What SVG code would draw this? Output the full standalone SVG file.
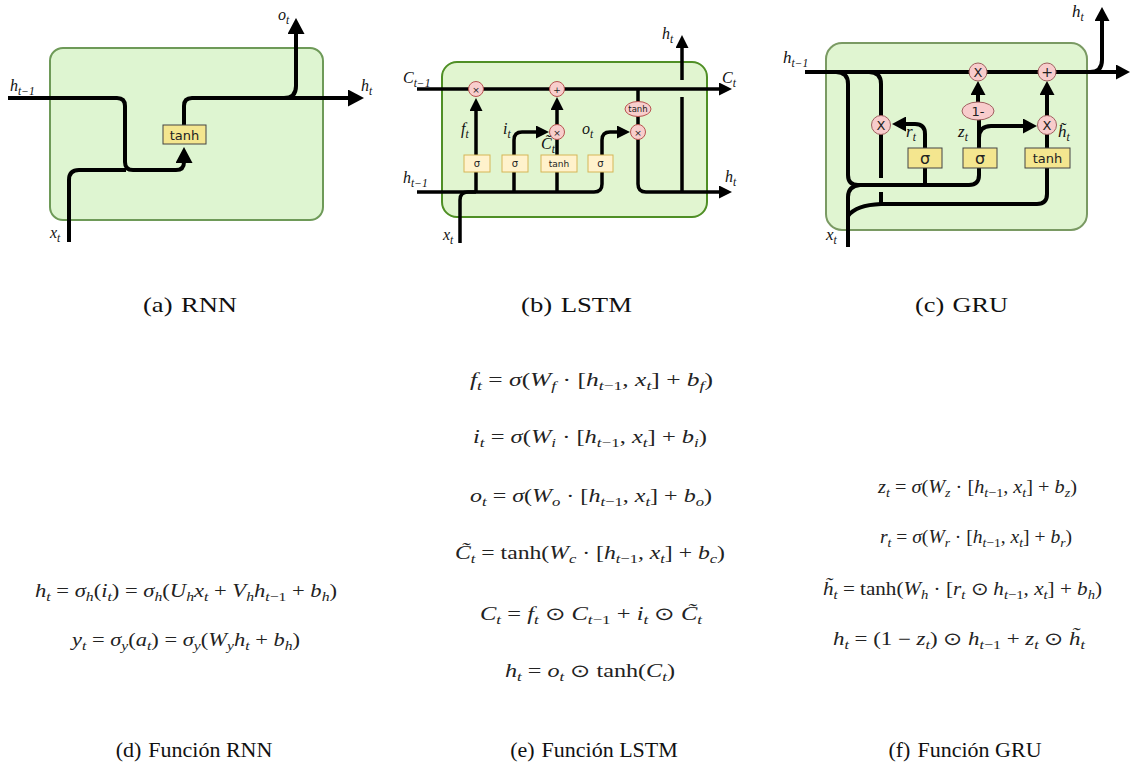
<svg xmlns="http://www.w3.org/2000/svg" width="1130" height="765" viewBox="0 0 1130 765">
<style>
.cap{font-family:"Liberation Serif",serif;font-size:22px;fill:#111}
.eq{font-family:"Liberation Serif",serif;font-size:18px;fill:#222}
.v{font-style:italic}
.b{font-size:12.5px;font-style:italic}
.n{font-size:12.5px;font-style:normal}
.lbl{font-family:"Liberation Serif",serif;font-style:italic;font-size:16px;fill:#111}
.ls{font-size:11.5px}
.wire{fill:none;stroke:#000;stroke-width:4;stroke-linejoin:round}
.wl{fill:none;stroke:#000;stroke-width:3.5;stroke-linejoin:round}
.cellR{fill:#def5d1;stroke:#6e9a58;stroke-width:2}
.cellL{fill:#e1f5d0;stroke:#4f8f25;stroke-width:2}
.cellG{fill:#e0f5d1;stroke:#7a9a63;stroke-width:2}
.ybox{fill:#f4e68f;stroke:#444;stroke-width:1}
.lbox{fill:#fff2cc;stroke:#d6b656;stroke-width:1}
.pk{fill:#f8cecc;stroke:#b85450;stroke-width:1}
.pg{fill:#f8cccc;stroke:#a06060;stroke-width:1}
.st{font-family:"DejaVu Sans",sans-serif;fill:#222;text-anchor:middle}
</style>
<defs>
<marker id="mR" markerUnits="userSpaceOnUse" markerWidth="16" markerHeight="17" refX="3" refY="8.5" orient="auto"><path d="M0,0 L16,8.5 L0,17 z" fill="#000"/></marker>
<marker id="mL" markerUnits="userSpaceOnUse" markerWidth="13" markerHeight="13" refX="2" refY="6.5" orient="auto"><path d="M0,0 L13,6.5 L0,13 z" fill="#000"/></marker>
<marker id="mG" markerUnits="userSpaceOnUse" markerWidth="14" markerHeight="15" refX="2" refY="7.5" orient="auto"><path d="M0,0 L14,7.5 L0,15 z" fill="#000"/></marker>
</defs>
<rect width="1130" height="765" fill="#fff"/>

<!-- ===== RNN ===== -->
<g id="rnn-cell"><rect class="cellR" x="50" y="48" width="273" height="172" rx="13"/></g>
<g id="rnn-connectors">
<path class="wire" d="M8,98 H117 Q125,98 125,106 V162 Q125,170 133,170 H176 Q184,170 184,162 V160" marker-end="url(#mR)"/>
<path class="wire" d="M69,242 V180 Q69,170 79,170 H126"/>
<path class="wire" d="M184,125 V106 Q184,98 192,98 H351" marker-end="url(#mR)"/>
<path class="wire" d="M284,98 Q296,98 296,86 V31" marker-end="url(#mR)"/>
</g>
<g id="rnn-tanh"><rect class="ybox" x="163" y="125" width="43" height="19"/><text class="st" x="184.5" y="139.5" font-size="13">tanh</text></g>
<g id="rnn-labels" class="lbl">
<text x="10" y="91">h<tspan class="ls" dy="4">t−1</tspan></text>
<text x="278" y="20">o<tspan class="ls" dy="4">t</tspan></text>
<text x="361" y="91">h<tspan class="ls" dy="4">t</tspan></text>
<text x="50" y="238">x<tspan class="ls" dy="4">t</tspan></text>
</g>

<!-- ===== LSTM ===== -->
<g id="lstm-cell"><rect class="cellL" x="442" y="62" width="265" height="155" rx="15"/></g>
<g id="lstm-connectors">
<path class="wl" d="M417,89 H721" marker-end="url(#mL)"/>
<path class="wl" d="M476,192 V109" marker-end="url(#mL)"/>
<path class="wl" d="M514,192 V140 Q514,132 522,132 H538" marker-end="url(#mL)"/>
<path class="wl" d="M557,192 V139"/>
<path class="wl" d="M557,125 V108" marker-end="url(#mL)"/>
<path class="wl" d="M417,192 H594 Q602,192 602,184 V140 Q602,132 610,132 H619" marker-end="url(#mL)"/>
<path class="wl" d="M638,89 V184 Q638,192 646,192 H721" marker-end="url(#mL)"/>
<path class="wl" d="M682,192 V97"/>
<path class="wl" d="M682,80 V46" marker-end="url(#mL)"/>
<path class="wl" d="M460,243 V200 Q460,192 468,192 H476"/>
</g>
<g id="lstm-forget-mul"><circle class="pk" cx="476" cy="89" r="7.5"/><text class="st" x="476" y="92.5" font-size="9">×</text></g>
<g id="lstm-add"><circle class="pk" cx="557" cy="89" r="7.5"/><text class="st" x="557" y="92.5" font-size="9">+</text></g>
<g id="lstm-input-mul"><circle class="pk" cx="557" cy="132" r="7.5"/><text class="st" x="557" y="135.5" font-size="9">×</text></g>
<g id="lstm-output-mul"><circle class="pk" cx="638" cy="132" r="7.5"/><text class="st" x="638" y="135.5" font-size="9">×</text></g>
<g id="lstm-tanh-out"><ellipse class="pk" cx="638" cy="109" rx="13" ry="7.5"/><text class="st" x="638" y="112" font-size="8.5">tanh</text></g>
<g id="lstm-sigma-f"><rect class="lbox" x="464" y="155" width="26" height="17"/><text class="st" x="477" y="167" font-size="10">σ</text></g>
<g id="lstm-sigma-i"><rect class="lbox" x="502" y="155" width="26" height="17"/><text class="st" x="515" y="167" font-size="10">σ</text></g>
<g id="lstm-tanh-c"><rect class="lbox" x="541" y="155" width="36" height="17"/><text class="st" x="559" y="167" font-size="9">tanh</text></g>
<g id="lstm-sigma-o"><rect class="lbox" x="588" y="155" width="25" height="17"/><text class="st" x="600.5" y="167" font-size="10">σ</text></g>
<g id="lstm-labels" class="lbl">
<text x="403" y="83">C<tspan class="ls" dy="4">t−1</tspan></text>
<text x="722" y="83">C<tspan class="ls" dy="4">t</tspan></text>
<text x="403" y="183">h<tspan class="ls" dy="4">t−1</tspan></text>
<text x="725" y="182">h<tspan class="ls" dy="4">t</tspan></text>
<text x="662" y="39">h<tspan class="ls" dy="4">t</tspan></text>
<text x="461" y="134">f<tspan class="ls" dy="4">t</tspan></text>
<text x="503" y="134">i<tspan class="ls" dy="4">t</tspan></text>
<text x="541" y="149">C&#x303;<tspan class="ls" dy="4">t</tspan></text>
<text x="582" y="134">o<tspan class="ls" dy="4">t</tspan></text>
<text x="443" y="240">x<tspan class="ls" dy="4">t</tspan></text>
</g>

<!-- ===== GRU ===== -->
<g id="gru-cell"><rect class="cellG" x="826" y="43" width="261" height="187" rx="16"/></g>
<g id="gru-connectors">
<path class="wire" d="M805,72 H1118" marker-end="url(#mG)"/>
<path class="wire" d="M1090,72 Q1102,72 1102,60 V19" marker-end="url(#mG)"/>
<path class="wire" d="M836,72 Q848,72 848,84 V175 Q848,185 858,185 H969 Q979,185 979,175 V168"/>
<path class="wire" d="M925,168 V185"/>
<path class="wire" d="M925,148 V134 Q925,124 915,124 H904" marker-end="url(#mG)"/>
<path class="wire" d="M869,72 Q881,72 881,84 V116"/>
<path class="wire" d="M881,134 V178"/>
<path class="wire" d="M881,192 V204"/>
<path class="wire" d="M848,247 V197 Q848,186 860,185"/>
<path class="wire" d="M848,216 Q856,205 881,204 H1037 Q1047,204 1047,194 V168"/>
<path class="wire" d="M979,148 V119"/>
<path class="wire" d="M978,102 V93" marker-end="url(#mG)"/>
<path class="wire" d="M979,138 Q979,126 991,126 H1025" marker-end="url(#mG)"/>
<path class="wire" d="M1047,148 V134"/>
<path class="wire" d="M1047,116 V93" marker-end="url(#mG)"/>
</g>
<g id="gru-mul-top"><circle class="pg" cx="978" cy="72" r="9"/><text class="st" x="978" y="77" font-size="13">X</text></g>
<g id="gru-add"><circle class="pg" cx="1047" cy="72" r="9"/><text class="st" x="1047" y="77" font-size="14">+</text></g>
<g id="gru-mul-r"><circle class="pg" cx="881" cy="125" r="9.5"/><text class="st" x="881" y="130" font-size="13">X</text></g>
<g id="gru-mul-z"><circle class="pg" cx="1047" cy="125" r="9.5"/><text class="st" x="1047" y="130" font-size="13">X</text></g>
<g id="gru-one-minus"><ellipse class="pg" cx="978" cy="111" rx="16" ry="9"/><text class="st" x="978" y="116" font-size="13">1-</text></g>
<g id="gru-sigma-r"><rect class="ybox" x="908" y="148" width="34" height="20"/><text class="st" x="925" y="164" font-size="16">σ</text></g>
<g id="gru-sigma-z"><rect class="ybox" x="963" y="148" width="34" height="20"/><text class="st" x="980" y="164" font-size="16">σ</text></g>
<g id="gru-tanh"><rect class="ybox" x="1025" y="148" width="45" height="20"/><text class="st" x="1047.5" y="163" font-size="13">tanh</text></g>
<g id="gru-labels" class="lbl">
<text x="783" y="63" font-size="17">h<tspan class="ls" dy="4">t−1</tspan></text>
<text x="1072" y="17" font-size="17">h<tspan class="ls" dy="4">t</tspan></text>
<text x="906" y="137" font-size="17">r<tspan class="ls" dy="4">t</tspan></text>
<text x="958" y="137" font-size="17">z<tspan class="ls" dy="4">t</tspan></text>
<text x="1058" y="137" font-size="17">h&#x303;<tspan class="ls" dy="4">t</tspan></text>
<text x="826" y="240" font-size="17">x<tspan class="ls" dy="4">t</tspan></text>
</g>

<!-- ===== Captions ===== -->
<g id="captions" class="cap">
<text x="143" y="312" textLength="94" lengthAdjust="spacingAndGlyphs">(a)<tspan dx="7">RNN</tspan></text>
<text x="521" y="312" textLength="111" lengthAdjust="spacingAndGlyphs">(b)<tspan dx="7">LSTM</tspan></text>
<text x="915" y="312" textLength="93" lengthAdjust="spacingAndGlyphs">(c)<tspan dx="7">GRU</tspan></text>
<text x="194" y="757" text-anchor="middle">(d)<tspan dx="7">Función RNN</tspan></text>
<text x="594" y="757" text-anchor="middle">(e)<tspan dx="7">Función LSTM</tspan></text>
<text x="965" y="757" text-anchor="middle">(f)<tspan dx="7">Función GRU</tspan></text>
</g>

<!-- ===== Equations ===== -->
<g id="eq-rnn" class="eq">
<text x="35" y="597" textLength="302" lengthAdjust="spacingAndGlyphs"><tspan class="v">h</tspan><tspan class="b" dy="4">t</tspan><tspan dy="-4"> = </tspan><tspan class="v">σ</tspan><tspan class="b" dy="4">h</tspan><tspan dy="-4">(</tspan><tspan class="v">i</tspan><tspan class="b" dy="4">t</tspan><tspan dy="-4">) = </tspan><tspan class="v">σ</tspan><tspan class="b" dy="4">h</tspan><tspan dy="-4">(</tspan><tspan class="v">U</tspan><tspan class="b" dy="4">h</tspan><tspan class="v" dy="-4">x</tspan><tspan class="b" dy="4">t</tspan><tspan dy="-4"> + </tspan><tspan class="v">V</tspan><tspan class="b" dy="4">h</tspan><tspan class="v" dy="-4">h</tspan><tspan class="b" dy="4">t</tspan><tspan class="n">−1</tspan><tspan dy="-4"> + </tspan><tspan class="v">b</tspan><tspan class="b" dy="4">h</tspan><tspan dy="-4">)</tspan></text>
<text x="72" y="646" textLength="228" lengthAdjust="spacingAndGlyphs"><tspan class="v">y</tspan><tspan class="b" dy="4">t</tspan><tspan dy="-4"> = </tspan><tspan class="v">σ</tspan><tspan class="b" dy="4">y</tspan><tspan dy="-4">(</tspan><tspan class="v">a</tspan><tspan class="b" dy="4">t</tspan><tspan dy="-4">) = </tspan><tspan class="v">σ</tspan><tspan class="b" dy="4">y</tspan><tspan dy="-4">(</tspan><tspan class="v">W</tspan><tspan class="b" dy="4">y</tspan><tspan class="v" dy="-4">h</tspan><tspan class="b" dy="4">t</tspan><tspan dy="-4"> + </tspan><tspan class="v">b</tspan><tspan class="b" dy="4">h</tspan><tspan dy="-4">)</tspan></text>
</g>
<g id="eq-lstm" class="eq">
<text x="470" y="386" textLength="243" lengthAdjust="spacingAndGlyphs"><tspan class="v">f</tspan><tspan class="b" dy="4">t</tspan><tspan dy="-4"> = </tspan><tspan class="v">σ</tspan><tspan>(</tspan><tspan class="v">W</tspan><tspan class="b" dy="4">f</tspan><tspan dy="-4"> · [</tspan><tspan class="v">h</tspan><tspan class="b" dy="4">t</tspan><tspan class="n">−1</tspan><tspan dy="-4">, </tspan><tspan class="v">x</tspan><tspan class="b" dy="4">t</tspan><tspan dy="-4">] + </tspan><tspan class="v">b</tspan><tspan class="b" dy="4">f</tspan><tspan dy="-4">)</tspan></text>
<text x="473" y="443" textLength="234" lengthAdjust="spacingAndGlyphs"><tspan class="v">i</tspan><tspan class="b" dy="4">t</tspan><tspan dy="-4"> = </tspan><tspan class="v">σ</tspan><tspan>(</tspan><tspan class="v">W</tspan><tspan class="b" dy="4">i</tspan><tspan dy="-4"> · [</tspan><tspan class="v">h</tspan><tspan class="b" dy="4">t</tspan><tspan class="n">−1</tspan><tspan dy="-4">, </tspan><tspan class="v">x</tspan><tspan class="b" dy="4">t</tspan><tspan dy="-4">] + </tspan><tspan class="v">b</tspan><tspan class="b" dy="4">i</tspan><tspan dy="-4">)</tspan></text>
<text x="470" y="502" textLength="242" lengthAdjust="spacingAndGlyphs"><tspan class="v">o</tspan><tspan class="b" dy="4">t</tspan><tspan dy="-4"> = </tspan><tspan class="v">σ</tspan><tspan>(</tspan><tspan class="v">W</tspan><tspan class="b" dy="4">o</tspan><tspan dy="-4"> · [</tspan><tspan class="v">h</tspan><tspan class="b" dy="4">t</tspan><tspan class="n">−1</tspan><tspan dy="-4">, </tspan><tspan class="v">x</tspan><tspan class="b" dy="4">t</tspan><tspan dy="-4">] + </tspan><tspan class="v">b</tspan><tspan class="b" dy="4">o</tspan><tspan dy="-4">)</tspan></text>
<text x="455" y="559" textLength="270" lengthAdjust="spacingAndGlyphs"><tspan class="v">C&#x303;</tspan><tspan class="b" dy="4">t</tspan><tspan dy="-4"> = tanh(</tspan><tspan class="v">W</tspan><tspan class="b" dy="4">c</tspan><tspan dy="-4"> · [</tspan><tspan class="v">h</tspan><tspan class="b" dy="4">t</tspan><tspan class="n">−1</tspan><tspan dy="-4">, </tspan><tspan class="v">x</tspan><tspan class="b" dy="4">t</tspan><tspan dy="-4">] + </tspan><tspan class="v">b</tspan><tspan class="b" dy="4">c</tspan><tspan dy="-4">)</tspan></text>
<text x="480" y="620" textLength="222" lengthAdjust="spacingAndGlyphs"><tspan class="v">C</tspan><tspan class="b" dy="4">t</tspan><tspan dy="-4"> = </tspan><tspan class="v">f</tspan><tspan class="b" dy="4">t</tspan><tspan dy="-4"> ⊙ </tspan><tspan class="v">C</tspan><tspan class="b" dy="4">t</tspan><tspan class="n">−1</tspan><tspan dy="-4"> + </tspan><tspan class="v">i</tspan><tspan class="b" dy="4">t</tspan><tspan dy="-4"> ⊙ </tspan><tspan class="v">C&#x303;</tspan><tspan class="b" dy="4">t</tspan></text>
<text x="505" y="677" textLength="170" lengthAdjust="spacingAndGlyphs"><tspan class="v">h</tspan><tspan class="b" dy="4">t</tspan><tspan dy="-4"> = </tspan><tspan class="v">o</tspan><tspan class="b" dy="4">t</tspan><tspan dy="-4"> ⊙ tanh(</tspan><tspan class="v">C</tspan><tspan class="b" dy="4">t</tspan><tspan dy="-4">)</tspan></text>
</g>
<g id="eq-gru" class="eq">
<text x="878" y="493" textLength="199" lengthAdjust="spacingAndGlyphs"><tspan class="v">z</tspan><tspan class="b" dy="4">t</tspan><tspan dy="-4"> = </tspan><tspan class="v">σ</tspan><tspan>(</tspan><tspan class="v">W</tspan><tspan class="b" dy="4">z</tspan><tspan dy="-4"> · [</tspan><tspan class="v">h</tspan><tspan class="b" dy="4">t</tspan><tspan class="n">−1</tspan><tspan dy="-4">, </tspan><tspan class="v">x</tspan><tspan class="b" dy="4">t</tspan><tspan dy="-4">] + </tspan><tspan class="v">b</tspan><tspan class="b" dy="4">z</tspan><tspan dy="-4">)</tspan></text>
<text x="880" y="543" textLength="192" lengthAdjust="spacingAndGlyphs"><tspan class="v">r</tspan><tspan class="b" dy="4">t</tspan><tspan dy="-4"> = </tspan><tspan class="v">σ</tspan><tspan>(</tspan><tspan class="v">W</tspan><tspan class="b" dy="4">r</tspan><tspan dy="-4"> · [</tspan><tspan class="v">h</tspan><tspan class="b" dy="4">t</tspan><tspan class="n">−1</tspan><tspan dy="-4">, </tspan><tspan class="v">x</tspan><tspan class="b" dy="4">t</tspan><tspan dy="-4">] + </tspan><tspan class="v">b</tspan><tspan class="b" dy="4">r</tspan><tspan dy="-4">)</tspan></text>
<text x="823" y="595" textLength="279" lengthAdjust="spacingAndGlyphs"><tspan class="v">h&#x303;</tspan><tspan class="b" dy="4">t</tspan><tspan dy="-4"> = tanh(</tspan><tspan class="v">W</tspan><tspan class="b" dy="4">h</tspan><tspan dy="-4"> · [</tspan><tspan class="v">r</tspan><tspan class="b" dy="4">t</tspan><tspan dy="-4"> ⊙ </tspan><tspan class="v">h</tspan><tspan class="b" dy="4">t</tspan><tspan class="n">−1</tspan><tspan dy="-4">, </tspan><tspan class="v">x</tspan><tspan class="b" dy="4">t</tspan><tspan dy="-4">] + </tspan><tspan class="v">b</tspan><tspan class="b" dy="4">h</tspan><tspan dy="-4">)</tspan></text>
<text x="833" y="645" textLength="252" lengthAdjust="spacingAndGlyphs"><tspan class="v">h</tspan><tspan class="b" dy="4">t</tspan><tspan dy="-4"> = (1 − </tspan><tspan class="v">z</tspan><tspan class="b" dy="4">t</tspan><tspan dy="-4">) ⊙ </tspan><tspan class="v">h</tspan><tspan class="b" dy="4">t</tspan><tspan class="n">−1</tspan><tspan dy="-4"> + </tspan><tspan class="v">z</tspan><tspan class="b" dy="4">t</tspan><tspan dy="-4"> ⊙ </tspan><tspan class="v">h&#x303;</tspan><tspan class="b" dy="4">t</tspan></text>
</g>
</svg>
